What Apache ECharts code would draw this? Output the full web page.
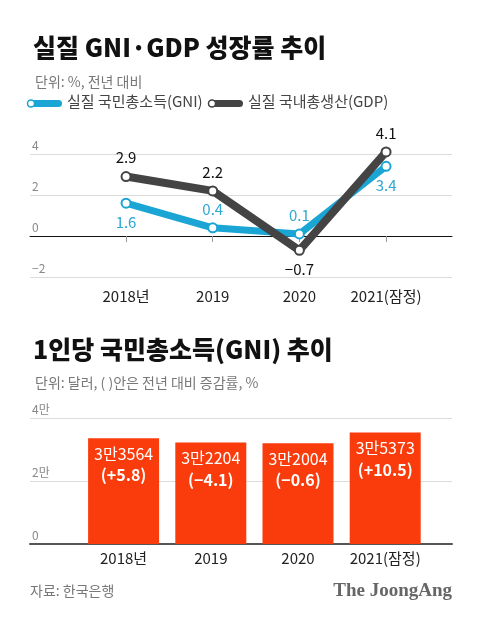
<!DOCTYPE html>
<html><head><meta charset="utf-8">
<script src="https://cdn.jsdelivr.net/npm/echarts@6/dist/echarts.min.js"></script>
<style>html,body{margin:0;padding:0;background:#fff}#c{width:480px;height:621px}</style>
</head><body><div id="c"></div>
<script>
// ---- data ----
const years = ['2018년', '2019', '2020', '2021(잠정)'];
const gniGrowth = [1.6, 0.4, 0.1, 3.4];
const gdpGrowth = [2.9, 2.2, -0.7, 4.1];
const gniLabelPos = ['bottom', 'top', 'top', 'bottom'];
const gdpLabelPos = ['top', 'top', 'bottom', 'top'];
const perCapitaGNI = [33564, 32204, 32004, 35373];
const perCapitaChange = [5.8, -4.1, -0.6, 10.5];
const lineYTicks = [-2, 0, 2, 4];
const barYTicks = [0, 20000, 40000];

const FONT = '"Noto Sans CJK KR", "Noto Sans", sans-serif';
const GNI_C = '#1aa5d4', GDP_C = '#444444', BAR_C = '#fa3b0c';
const minus = v => (v < 0 ? '−' + Math.abs(v) : String(v));

const chart = echarts.init(document.getElementById('c'), null, {renderer: 'canvas'});

const gniData = gniGrowth.map((v, i) => ({value: v, label: {position: gniLabelPos[i]}}));
const gdpData = gdpGrowth.map((v, i) => ({value: v, label: {position: gdpLabelPos[i]}}));
const barData = perCapitaGNI.map((v, i) => ({value: v, chg: perCapitaChange[i]}));

const yLineLabel = {
  inside: true, margin: 2, color: '#888', fontSize: 12, fontFamily: FONT,
  verticalAlign: 'bottom', padding: [0, 0, 3, 0]
};

chart.setOption({
  animation: false,
  textStyle: {fontFamily: FONT},
  title: [
    {text: '실질 GNI·GDP 성장률 추이', left: 28, top: 30,
     textStyle: {fontSize: 25, fontWeight: 900, color: '#111', fontFamily: FONT}},
    {text: '단위: %, 전년 대비', left: 30, top: 70,
     textStyle: {fontSize: 14, fontWeight: 'normal', color: '#777', fontFamily: FONT}},
    {text: '1인당 국민총소득(GNI) 추이', left: 28, top: 332,
     textStyle: {fontSize: 25, fontWeight: 900, color: '#111', fontFamily: FONT}},
    {text: '단위: 달러, ( )안은 전년 대비 증감률, %', left: 30, top: 371,
     textStyle: {fontSize: 14, fontWeight: 'normal', color: '#777', fontFamily: FONT}}
  ],
  grid: [
    {left: 30, right: 28, top: 154, bottom: 344},
    {left: 82.7, width: 346.7, top: 154, bottom: 344},
    {left: 30, right: 28, top: 418, bottom: 77},
    {left: 80, width: 348.8, top: 418, bottom: 77}
  ],
  xAxis: [
    {gridIndex: 0, type: 'value', min: 0, max: 1, axisLabel: {show: false}, axisTick: {show: false},
     splitLine: {show: false}, axisLine: {show: true, onZero: true, lineStyle: {color: '#111', width: 1}}},
    {gridIndex: 1, type: 'category', data: years, boundaryGap: true,
     axisLine: {show: false}, axisTick: {show: true, interval: 0, alignWithLabel: true, length: 6, lineStyle: {color: '#999'}},
     axisLabel: {interval: 0, margin: 12, color: '#222', fontSize: 15, fontFamily: FONT}},
    {gridIndex: 2, type: 'value', min: 0, max: 1, axisLabel: {show: false}, axisTick: {show: false},
     splitLine: {show: false}, axisLine: {show: true, onZero: true, lineStyle: {color: '#555', width: 2}}},
    {gridIndex: 3, type: 'category', data: years, boundaryGap: true,
     axisLine: {show: false}, axisTick: {show: false},
     axisLabel: {interval: 0, margin: 7, color: '#222', fontSize: 15, fontFamily: FONT}}
  ],
  yAxis: [
    {gridIndex: 0, type: 'value', min: lineYTicks[0], max: lineYTicks[lineYTicks.length - 1], interval: 2,
     axisLine: {show: false}, axisTick: {show: false},
     splitLine: {lineStyle: {color: '#dcdcdc'}},
     axisLabel: Object.assign({formatter: v => minus(v)}, yLineLabel)},
    {gridIndex: 1, type: 'value', min: lineYTicks[0], max: lineYTicks[lineYTicks.length - 1], interval: 2, show: false},
    {gridIndex: 2, type: 'value', min: barYTicks[0], max: barYTicks[barYTicks.length - 1], interval: 20000,
     axisLine: {show: false}, axisTick: {show: false},
     splitLine: {lineStyle: {color: '#dcdcdc'}},
     axisLabel: Object.assign({formatter: v => (v === 0 ? '0' : (v / 10000) + '만')}, yLineLabel)},
    {gridIndex: 3, type: 'value', min: barYTicks[0], max: barYTicks[barYTicks.length - 1], interval: 20000, show: false}
  ],
  series: [
    {name: '실질 국민총소득(GNI)', type: 'line', xAxisIndex: 1, yAxisIndex: 1, data: gniData,
     clip: false, z: 3,
     lineStyle: {color: GNI_C, width: 7, cap: 'round', join: 'round'},
     itemStyle: {color: '#fff', borderColor: GNI_C, borderWidth: 2},
     symbol: 'circle', symbolSize: 9, showAllSymbol: true,
     label: {show: true, distance: 6, color: '#2ea7d2', fontSize: 15, fontFamily: FONT, formatter: p => minus(p.value)}},
    {name: '실질 국내총생산(GDP)', type: 'line', xAxisIndex: 1, yAxisIndex: 1, data: gdpData,
     clip: false, z: 4,
     lineStyle: {color: GDP_C, width: 8, cap: 'round', join: 'round'},
     itemStyle: {color: '#fff', borderColor: GDP_C, borderWidth: 2},
     symbol: 'circle', symbolSize: 9, showAllSymbol: true,
     label: {show: true, distance: 6, color: '#111', fontSize: 15, fontFamily: FONT, formatter: p => minus(p.value)}},
    {name: 'perCapita', type: 'bar', xAxisIndex: 3, yAxisIndex: 3, data: barData, barWidth: 71,
     itemStyle: {color: BAR_C},
     label: {show: true, position: 'insideTop', distance: 5,
       formatter: p => {
         const v = p.value, man = Math.floor(v / 10000), rest = v % 10000;
         const c = p.data.chg;
         const s = c > 0 ? '+' + c : '−' + Math.abs(c);
         return '{a|' + man + '만' + rest + '}\n{b|(' + s + ')}';
       },
       rich: {
         a: {color: '#fff', fontSize: 16, lineHeight: 21, fontFamily: FONT},
         b: {color: '#fff', fontSize: 16, fontWeight: 'bold', lineHeight: 22, fontFamily: FONT}
       }}}
  ],
  graphic: [
    {type: 'rect', shape: {x: 27, y: 100, width: 35, height: 7, r: 3.5}, style: {fill: GNI_C}},
    {type: 'circle', shape: {cx: 31, cy: 103.5, r: 3.5}, style: {fill: '#fff', stroke: GNI_C, lineWidth: 1.5}},
    {type: 'text', left: 67, top: 94, style: {text: '실질 국민총소득(GNI)', fill: '#444', fontSize: 15, fontFamily: FONT}},
    {type: 'rect', shape: {x: 208, y: 100, width: 35, height: 7, r: 3.5}, style: {fill: GDP_C}},
    {type: 'circle', shape: {cx: 212, cy: 103.5, r: 3.5}, style: {fill: '#fff', stroke: GDP_C, lineWidth: 1.5}},
    {type: 'text', left: 248, top: 94, style: {text: '실질 국내총생산(GDP)', fill: '#444', fontSize: 15, fontFamily: FONT}},
    {type: 'text', left: 30, top: 584, style: {text: '자료: 한국은행', fill: '#777', fontSize: 14, fontFamily: FONT}},
    {type: 'text', right: 28, top: 582, style: {text: 'The JoongAng', fill: '#666', fontSize: 19, fontWeight: 'bold', fontFamily: '"Liberation Serif", "DejaVu Serif", serif'}}
  ]
});
</script>
</body></html>
